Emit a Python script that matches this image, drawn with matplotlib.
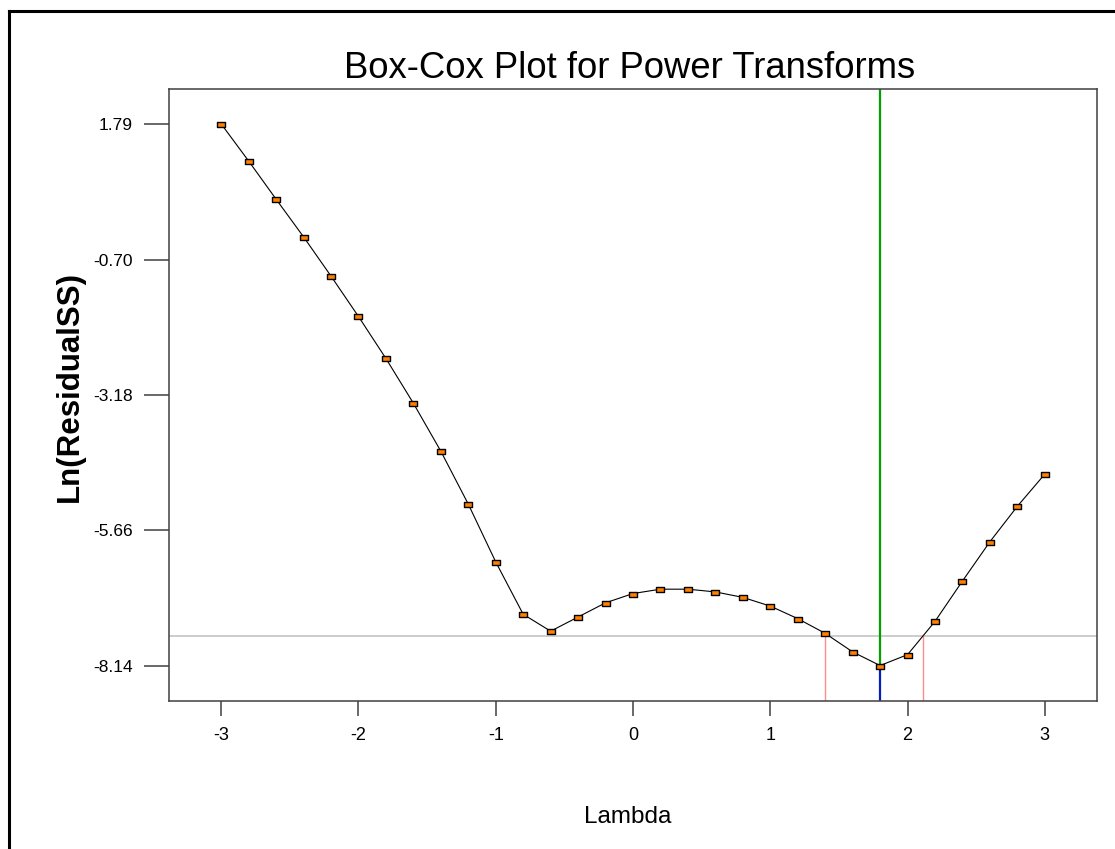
#!/usr/bin/env python3
"""Box-Cox plot for power transforms: ln(residual SS) vs lambda."""

import matplotlib
matplotlib.use("Agg")
import matplotlib.pyplot as plt
from matplotlib.lines import Line2D
from matplotlib.path import Path

plt.rcParams["font.family"] = ["Liberation Sans", "DejaVu Sans"]

# lambda grid and ln(residual SS)
lambdas = [-3.0, -2.8, -2.6, -2.4, -2.2, -2.0, -1.8, -1.6, -1.4, -1.2, -1.0,
           -0.8, -0.6, -0.4, -0.2, 0.0, 0.2, 0.4, 0.6, 0.8, 1.0,
           1.2, 1.4, 1.6, 1.8, 2.0, 2.2, 2.4, 2.6, 2.8, 3.0]
ln_rss = [1.79, 1.11, 0.41, -0.28, -1.00, -1.74, -2.51, -3.33, -4.21, -5.18, -6.24,
          -7.20, -7.51, -7.25, -6.99, -6.82, -6.74, -6.74, -6.79, -6.89, -7.05,
          -7.28, -7.55, -7.89, -8.14, -7.94, -7.33, -6.59, -5.87, -5.22, -4.63]

lambda_best = 1.8
ci_low = 1.40
ci_high = 2.115
threshold = -7.59

xtick_values = [-3, -2, -1, 0, 1, 2, 3]
ytick_values = [1.79, -0.70, -3.18, -5.66, -8.14]

W, H = 1115, 849
fig = plt.figure(figsize=(W / 100, H / 100), dpi=100)
ax = fig.add_axes([169 / W, 1 - 701 / H, (1097 - 169) / W, (701 - 89) / H])

ax.set_xlim(-3.38, 3.38)
ax.set_ylim(-8.79, 2.43)

# threshold line and confidence limits
ax.axhline(threshold, color="#c8c8c8", linewidth=1.3, zorder=1)
ax.plot([ci_low, ci_low], [-8.79, threshold], color="#ff8c8c", linewidth=1.0, zorder=1)
ax.plot([ci_high, ci_high], [-8.79, threshold], color="#ff8c8c", linewidth=1.0, zorder=1)

# optimum lambda
y_min = min(ln_rss)
ax.plot([lambda_best, lambda_best], [y_min, 2.43], color="#00a000", linewidth=1.6, zorder=2)
ax.plot([lambda_best, lambda_best], [-8.79, y_min], color="#0020c0", linewidth=1.6, zorder=2)

rect = Path([(-1, -0.6), (1, -0.6), (1, 0.6), (-1, 0.6), (-1, -0.6)],
            [Path.MOVETO, Path.LINETO, Path.LINETO, Path.LINETO, Path.CLOSEPOLY])
ax.plot(lambdas, ln_rss, color="black", linewidth=0.8, marker=rect, markersize=6,
        markerfacecolor="#ff8000", markeredgecolor="black", markeredgewidth=1.0, zorder=3)

for s in ax.spines.values():
    s.set_color("#404040")
    s.set_linewidth(1.1)

ax.set_xticks(xtick_values)
ax.set_xticklabels([str(v) for v in xtick_values])
ax.set_yticks(ytick_values)
ax.set_yticklabels([f"{v:.2f}" for v in ytick_values])
ax.tick_params(axis="x", length=11, width=1.1, color="#404040", pad=8, labelsize=13)
ax.tick_params(axis="y", length=18, width=1.1, color="#404040", pad=8, labelsize=12.5)

fig.text(630 / W, 1 - 68 / H, "Box-Cox Plot for Power Transforms",
         ha="center", va="center", fontsize=26.3)
fig.text(70 / W, 1 - 387 / H, "Ln(ResidualSS)", rotation=90,
         ha="center", va="center", fontsize=22.5, fontweight="bold")
fig.text(628 / W, 1 - 817 / H, "Lambda", ha="center", va="center", fontsize=17.5)

# outer frame (left and top edges)
fig.add_artist(Line2D([8.5 / W, 8.5 / W], [0, 1 - 10.5 / H], color="black", linewidth=2.2))
fig.add_artist(Line2D([8.5 / W, 1], [1 - 10.5 / H, 1 - 10.5 / H], color="black", linewidth=2.2))

fig.savefig("out.png", dpi=100)
